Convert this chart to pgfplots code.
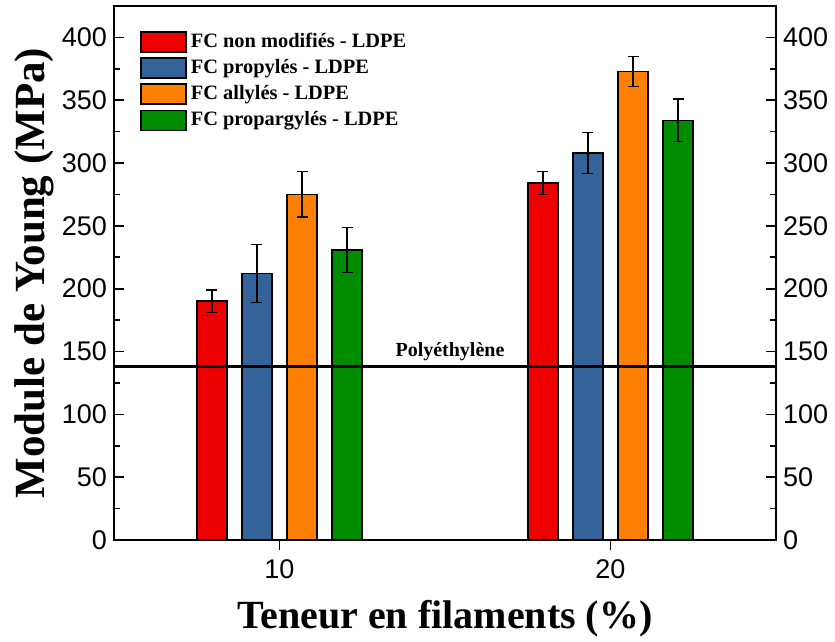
\documentclass[border=0pt]{standalone}
\usepackage{fontspec}
\setmainfont{Liberation Serif}
\setsansfont{Liberation Sans}
\usepackage{pgfplots}
\pgfplotsset{compat=1.18}
\usepackage{pgfplotstable}

\definecolor{cred}{RGB}{238,0,0}
\definecolor{cblue}{RGB}{51,99,153}
\definecolor{corange}{RGB}{255,128,0}
\definecolor{cgreen}{RGB}{0,140,0}

\pgfplotstableread{
x y e
10 190 9
20 284 9
}\tred
\pgfplotstableread{
x y e
10 212 23
20 308 16
}\tblue
\pgfplotstableread{
x y e
10 275 18
20 373 12
}\torange
\pgfplotstableread{
x y e
10 231 18
20 334 17
}\tgreen

\pgfplotsset{
  myerr/.style={error bars/.cd, y dir=both, y explicit,
    error bar style={line width=0.6pt, black},
    error mark options={rotate=90, mark size=2.75pt, line width=0.6pt, black}},
  common/.style={
    at={(0,0)}, anchor=south west,
    width=331pt, height=267pt, scale only axis,
    xmin=5, xmax=25, ymin=0, ymax=425,
    ytick={0,50,...,400}, minor y tick num=1,
    major tick length=5pt, minor tick length=3pt,
    tick style={line width=0.8pt, black},
    axis line style={line width=1pt},
    /pgf/number format/assume math mode=true,
    tick label style={font=\sffamily\fontsize{13.5}{15}\selectfont},
  }
}

\begin{document}
\begin{tikzpicture}
\useasboundingbox (-57pt,-51pt) rectangle (360.5pt,270pt);
\begin{axis}[common,
  ybar, bar width=0.9,
  xtick={10,20}, xtick pos=bottom, ytick pos=left,
  xtick align=outside, ytick align=inside,
  xticklabel style={yshift=-1.5pt},
  xlabel={Teneur en filaments (\%)},
  ylabel={Module de Young (MPa)},
  xlabel style={font=\bfseries\fontsize{20}{23}\selectfont, at={(axis description cs:0.5,-0.148)}, anchor=center},
  ylabel style={font=\bfseries\fontsize{21.5}{24}\selectfont, at={(axis description cs:-0.12,0.5)}, anchor=center},
  legend style={at={(0.03,0.965)}, anchor=north west, draw=none, fill=none,
    font=\bfseries\fontsize{10.2}{12}\selectfont, row sep=0.5pt},
  legend cell align=left,
  legend image code/.code={\draw[#1] (0pt,-5pt) rectangle (22.5pt,5pt);},
]
\addplot[fill=cred, draw=black, line width=0.8pt, bar shift=-2.04, myerr] table[x=x,y=y,y error=e] {\tred};
\addplot[fill=cblue, draw=black, line width=0.8pt, bar shift=-0.68, myerr] table[x=x,y=y,y error=e] {\tblue};
\addplot[fill=corange, draw=black, line width=0.8pt, bar shift=0.68, myerr] table[x=x,y=y,y error=e] {\torange};
\addplot[fill=cgreen, draw=black, line width=0.8pt, bar shift=2.04, myerr] table[x=x,y=y,y error=e] {\tgreen};
\legend{FC non modifiés - LDPE, FC propylés - LDPE, FC allylés - LDPE, FC propargylés - LDPE}
\addplot[sharp plot, black, line width=1.2pt, forget plot] coordinates {(5,138) (25,138)};
\node[font=\bfseries\fontsize{10}{12}\selectfont, anchor=south, inner sep=2.5pt] at (axis cs:15.15,138) {Polyéthylène};
\end{axis}
\begin{axis}[common,
  axis x line=none, axis y line*=right,
  yticklabel pos=right, ytick align=inside,
]
\addplot[draw=none] coordinates {(5,0)};
\end{axis}
\end{tikzpicture}
\end{document}
